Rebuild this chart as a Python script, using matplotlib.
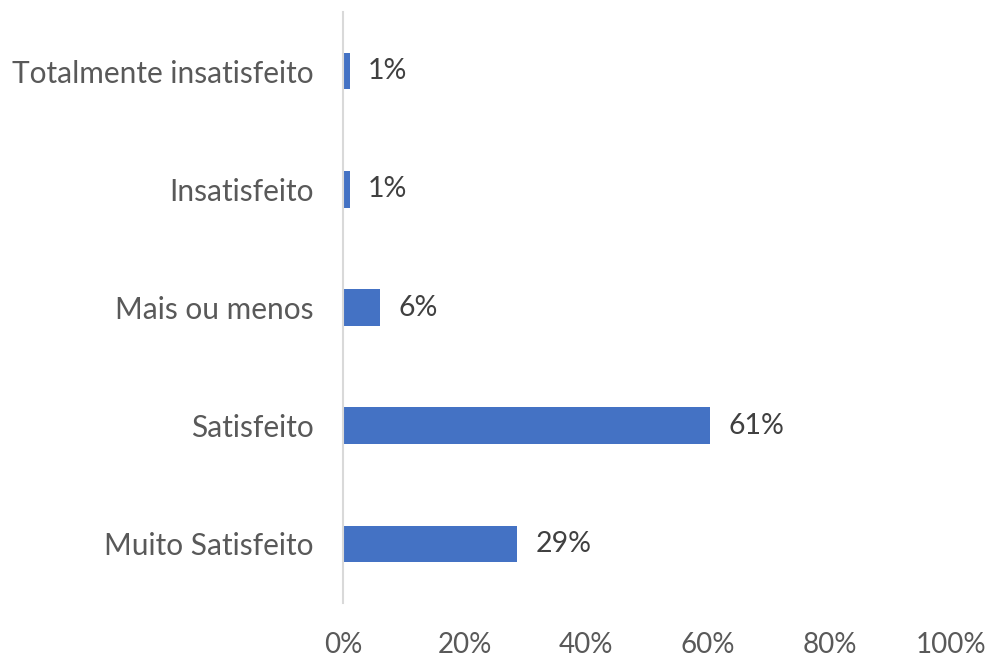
import matplotlib
matplotlib.use("Agg")
import matplotlib.pyplot as plt
from matplotlib.ticker import FuncFormatter

categories = ["Muito Satisfeito", "Satisfeito", "Mais ou menos", "Insatisfeito", "Totalmente insatisfeito"]
values = [0.287, 0.604, 0.061, 0.011, 0.011]
labels = ["29%", "61%", "6%", "1%", "1%"]
xticks = [0, 0.2, 0.4, 0.6, 0.8, 1.0]

plt.rcParams['font.family'] = ['Lato', 'DejaVu Sans']

fig = plt.figure(figsize=(9.86, 6.62), dpi=100)
ax = fig.add_axes([343/986, 1 - 603/662, (951 - 343)/986, (603 - 12)/662])

y = list(range(len(categories)))
bars = ax.barh(y, values, height=0.31, color="#4472C4")
for b, lab in zip(bars, labels):
    ax.text(b.get_width() + 0.03, b.get_y() + b.get_height() / 2, lab,
            va="center", ha="left", fontsize=20.5, color="#404040")

ax.set_xlim(0, 1)
ax.set_ylim(-0.5, len(categories) - 0.5)
ax.set_yticks(y)
ax.set_yticklabels(categories, fontsize=21.5, color="#595959")
ax.set_xticks(xticks)
ax.xaxis.set_major_formatter(FuncFormatter(lambda v, p: f"{v*100:.0f}%"))
for t in ax.get_xticklabels():
    t.set_fontsize(20)
    t.set_color("#595959")
ax.tick_params(axis="both", length=0)
ax.tick_params(axis="x", pad=21)
ax.tick_params(axis="y", pad=21)
for s in ["top", "right", "bottom"]:
    ax.spines[s].set_visible(False)
ax.spines["left"].set_color("#d9d9d9")
ax.spines["left"].set_linewidth(1.5)

fig.savefig("out.png", dpi=100)
